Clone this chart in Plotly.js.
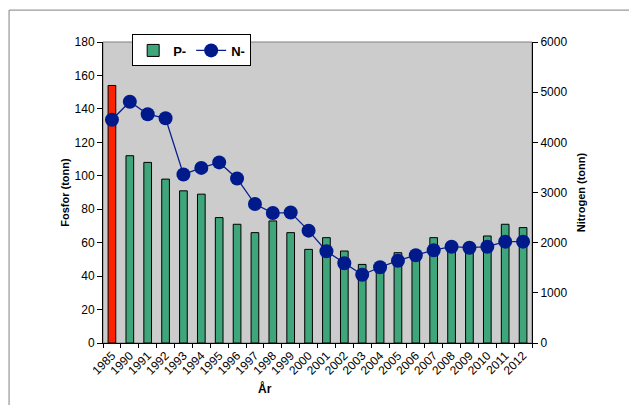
<!DOCTYPE html>
<html>
<head>
<meta charset="utf-8">
<script src="https://cdn.plot.ly/plotly-3.0.1.min.js"></script>
<style>html,body{margin:0;padding:0;background:#fff;}#chart{width:629px;height:405px;}</style>
</head>
<body>
<div id="chart"></div>
<script>
const years = ['1985','1990','1991','1992','1993','1994','1995','1996','1997','1998','1999','2000','2001','2002','2003','2004','2005','2006','2007','2008','2009','2010','2011','2012'];
const fosfor = [154,112,108,98,91,89,75,71,66,73,66,56,63,55,47,46,54,52,63,58,56,64,71,69];
const nitrogen = [4450,4810,4560,4480,3360,3490,3600,3280,2770,2590,2600,2240,1830,1590,1360,1510,1640,1750,1850,1920,1900,1920,2020,2020];

const F = 'Liberation Sans, Arial, sans-serif';
const data = [
  {type:'bar', name:'P-', x:years.slice(1), y:fosfor.slice(1), width:0.43,
   marker:{color:'#3fa57a', line:{color:'#000', width:1}}, yaxis:'y'},
  {type:'bar', name:'P-', x:years.slice(0,1), y:fosfor.slice(0,1), width:0.43, showlegend:false,
   marker:{color:'#ff2200', line:{color:'#000', width:1}}, yaxis:'y'},
  {type:'scatter', mode:'lines+markers', name:'N-', x:years, y:nitrogen, yaxis:'y2',
   line:{color:'#0a1f8f', width:1.3}, marker:{color:'#001a8c', size:14}}
];
const layout = {
  width:629, height:405,
  margin:{l:103, r:97, t:42, b:62},
  paper_bgcolor:'#fff', plot_bgcolor:'#cccccc',
  font:{family:F, size:12, color:'#000'},
  showlegend:true, barmode:'overlay',
  legend:{orientation:'h', x:0.068, y:1.025, xanchor:'left', yanchor:'top',
    bgcolor:'#fff', bordercolor:'#000', borderwidth:1,
    font:{family:F, size:13, color:'#000', weight:'bold'}, traceorder:'normal'},
  xaxis:{type:'category', categoryarray:years, categoryorder:'array', range:[-0.5, 23.5],
    showline:true, linecolor:'#000', linewidth:1,
    ticks:'outside', ticklen:4, tickcolor:'#000', tickson:'boundaries',
    tickangle:-45, tickfont:{family:F, size:12}, showgrid:false, zeroline:false,
    automargin:false},
  yaxis:{range:[0,180], dtick:20, showline:true, linecolor:'#000', linewidth:1,
    ticks:'outside', ticklen:5, tickcolor:'#000', showgrid:false, zeroline:false,
    automargin:false, tickfont:{family:F, size:12},
    title:{text:'<b>Fosfor (tonn)</b>', font:{family:F, size:11}, standoff:2}},
  yaxis2:{range:[0,6000], dtick:1000, overlaying:'y', side:'right', showline:true,
    linecolor:'#000', linewidth:1, ticks:'outside', ticklen:5, tickcolor:'#000',
    showgrid:false, zeroline:false, automargin:false, tickfont:{family:F, size:12},
    title:{text:'<b>Nitrogen (tonn)</b>', font:{family:F, size:11}, standoff:10}},
  annotations:[
    {text:'<b>År</b>', xref:'paper', yref:'paper', x:0.378, y:-0.15, showarrow:false,
     xanchor:'center', yanchor:'middle', font:{family:F, size:12, color:'#000'}}
  ],
  shapes:[
    {type:'rect', xref:'paper', yref:'paper', x0:0, x1:1, y0:0, y1:1,
     line:{color:'#808080', width:1}, layer:'below'},
    {type:'rect', xref:'paper', yref:'paper', x0:-0.219, x1:1.5, y0:-0.5, y1:1.106,
     line:{color:'#808080', width:1}, fillcolor:'rgba(0,0,0,0)', layer:'below'}
  ]
};
Plotly.newPlot('chart', data, layout, {staticPlot:true});
</script>
</body>
</html>
